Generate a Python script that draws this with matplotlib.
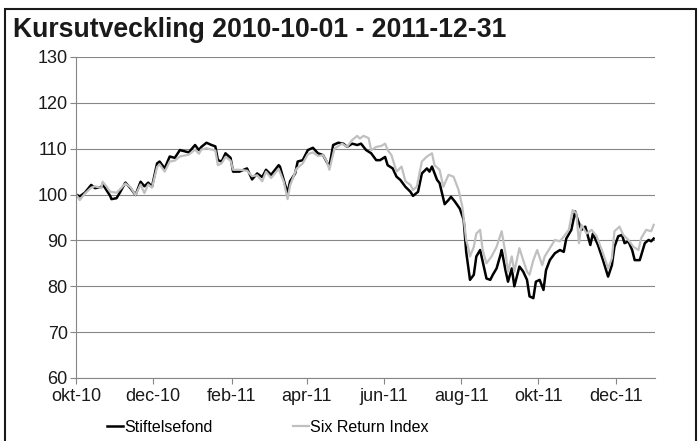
import pandas as pd
import matplotlib
matplotlib.use("Agg")
import matplotlib.pyplot as plt
from matplotlib.patches import Rectangle

plt.rcParams['font.family'] = ['Liberation Sans', 'DejaVu Sans']

TITLE = 'Kursutveckling 2010-10-01 - 2011-12-31'

# Stiftelsefond, indexed to 100 at start
fond_dates = [
    '2010-10-01', '2010-10-04', '2010-10-08', '2010-10-13', '2010-10-16', '2010-10-21',
    '2010-10-22', '2010-10-25', '2010-10-28', '2010-10-29', '2010-11-02', '2010-11-05',
    '2010-11-09', '2010-11-13', '2010-11-17', '2010-11-21', '2010-11-24', '2010-11-27',
    '2010-11-30', '2010-12-04', '2010-12-06', '2010-12-10', '2010-12-14', '2010-12-18',
    '2010-12-22', '2010-12-29', '2011-01-03', '2011-01-06', '2011-01-08', '2011-01-12',
    '2011-01-16', '2011-01-19', '2011-01-21', '2011-01-24', '2011-01-27', '2011-01-31',
    '2011-02-02', '2011-02-07', '2011-02-13', '2011-02-17', '2011-02-21', '2011-02-25',
    '2011-02-28', '2011-03-04', '2011-03-10', '2011-03-11', '2011-03-14', '2011-03-17',
    '2011-03-19', '2011-03-23', '2011-03-25', '2011-03-29', '2011-04-02', '2011-04-06',
    '2011-04-10', '2011-04-14', '2011-04-19', '2011-04-22', '2011-04-26', '2011-04-30',
    '2011-05-03', '2011-05-07', '2011-05-11', '2011-05-14', '2011-05-18', '2011-05-22',
    '2011-05-26', '2011-05-29', '2011-06-02', '2011-06-04', '2011-06-08', '2011-06-11',
    '2011-06-14', '2011-06-18', '2011-06-22', '2011-06-24', '2011-06-28', '2011-07-01',
    '2011-07-05', '2011-07-07', '2011-07-09', '2011-07-13', '2011-07-15', '2011-07-19',
    '2011-07-22', '2011-07-24', '2011-07-27', '2011-07-31', '2011-08-03', '2011-08-05',
    '2011-08-07', '2011-08-08', '2011-08-11', '2011-08-13', '2011-08-16', '2011-08-18',
    '2011-08-21', '2011-08-24', '2011-08-26', '2011-08-29', '2011-09-01', '2011-09-02',
    '2011-09-05', '2011-09-07', '2011-09-10', '2011-09-12', '2011-09-16', '2011-09-19',
    '2011-09-22', '2011-09-24', '2011-09-27', '2011-09-29', '2011-10-02', '2011-10-05',
    '2011-10-07', '2011-10-10', '2011-10-14', '2011-10-18', '2011-10-21', '2011-10-23',
    '2011-10-27', '2011-10-30', '2011-11-01', '2011-11-04', '2011-11-07', '2011-11-11',
    '2011-11-13', '2011-11-17', '2011-11-21', '2011-11-25', '2011-11-28', '2011-11-30',
    '2011-12-03', '2011-12-06', '2011-12-08', '2011-12-11', '2011-12-14', '2011-12-16',
    '2011-12-20', '2011-12-24', '2011-12-27', '2011-12-29', '2011-12-31',
]
fond_values = [
    100.0, 99.6, 100.4, 102.1, 101.4, 101.6,
    102.3, 101.0, 99.7, 99.0, 99.2, 100.6,
    102.6, 101.4, 99.9, 102.8, 101.8, 102.6,
    101.7, 106.8, 107.2, 105.7, 108.3, 108.0,
    109.7, 109.2, 110.8, 109.7, 110.4, 111.3,
    110.8, 110.5, 107.5, 107.2, 109.0, 108.0,
    105.0, 105.0, 105.7, 103.3, 104.6, 103.8,
    105.4, 104.3, 106.4, 106.1, 103.2, 100.3,
    102.9, 104.6, 107.2, 107.5, 109.7, 110.2,
    109.0, 108.6, 106.1, 110.8, 111.3, 111.1,
    110.4, 111.1, 110.8, 111.1, 109.7, 109.0,
    107.5, 107.5, 108.2, 106.4, 105.7, 103.9,
    103.2, 101.7, 100.6, 99.7, 100.6, 104.6,
    105.7, 105.0, 106.1, 103.2, 102.5, 97.9,
    98.8, 99.5, 98.5, 96.9, 94.5, 87.5,
    83.5, 81.4, 82.5, 86.5, 87.9, 85.4,
    81.7, 81.4, 82.5, 83.9, 86.8, 87.9,
    83.5, 81.0, 83.9, 80.0, 84.3, 83.2,
    81.4, 77.8, 77.4, 81.0, 81.4, 79.2,
    83.5, 85.7, 87.2, 87.9, 87.5, 90.4,
    92.3, 96.3, 94.5, 92.3, 93.0, 89.0,
    91.5, 89.0, 85.7, 82.1, 84.6, 88.6,
    90.9, 91.2, 89.4, 89.8, 87.9, 85.7,
    85.7, 89.4, 90.1, 89.8, 90.4,
]

# Six Return Index, indexed to 100 at start
index_dates = [
    '2010-10-01', '2010-10-04', '2010-10-08', '2010-10-13', '2010-10-16', '2010-10-21',
    '2010-10-22', '2010-10-25', '2010-10-28', '2010-11-02', '2010-11-05', '2010-11-09',
    '2010-11-13', '2010-11-17', '2010-11-21', '2010-11-24', '2010-11-27', '2010-11-30',
    '2010-12-04', '2010-12-06', '2010-12-10', '2010-12-14', '2010-12-18', '2010-12-22',
    '2010-12-29', '2011-01-03', '2011-01-06', '2011-01-08', '2011-01-12', '2011-01-16',
    '2011-01-19', '2011-01-21', '2011-01-24', '2011-01-27', '2011-01-31', '2011-02-02',
    '2011-02-07', '2011-02-13', '2011-02-17', '2011-02-21', '2011-02-25', '2011-02-28',
    '2011-03-04', '2011-03-10', '2011-03-14', '2011-03-17', '2011-03-19', '2011-03-24',
    '2011-03-29', '2011-04-02', '2011-04-06', '2011-04-10', '2011-04-14', '2011-04-17',
    '2011-04-19', '2011-04-23', '2011-04-29', '2011-05-03', '2011-05-07', '2011-05-11',
    '2011-05-13', '2011-05-16', '2011-05-20', '2011-05-22', '2011-05-26', '2011-05-30',
    '2011-06-02', '2011-06-04', '2011-06-07', '2011-06-11', '2011-06-15', '2011-06-18',
    '2011-06-22', '2011-06-24', '2011-06-27', '2011-07-01', '2011-07-05', '2011-07-09',
    '2011-07-11', '2011-07-15', '2011-07-18', '2011-07-22', '2011-07-26', '2011-07-30',
    '2011-08-02', '2011-08-05', '2011-08-07', '2011-08-08', '2011-08-11', '2011-08-13',
    '2011-08-16', '2011-08-18', '2011-08-21', '2011-08-25', '2011-08-29', '2011-09-02',
    '2011-09-05', '2011-09-07', '2011-09-10', '2011-09-12', '2011-09-16', '2011-09-19',
    '2011-09-22', '2011-09-24', '2011-09-27', '2011-09-30', '2011-10-04', '2011-10-06',
    '2011-10-10', '2011-10-14', '2011-10-18', '2011-10-22', '2011-10-25', '2011-10-28',
    '2011-10-31', '2011-11-02', '2011-11-04', '2011-11-08', '2011-11-12', '2011-11-16',
    '2011-11-21', '2011-11-25', '2011-11-28', '2011-11-30', '2011-12-04', '2011-12-07',
    '2011-12-11', '2011-12-15', '2011-12-19', '2011-12-21', '2011-12-25', '2011-12-29',
    '2011-12-31',
]
index_values = [
    100.0, 98.8, 100.2, 101.5, 101.8, 101.4,
    102.8, 101.8, 100.6, 100.4, 101.2, 102.4,
    101.6, 99.9, 102.2, 100.3, 102.2, 101.5,
    106.0, 106.6, 105.0, 107.2, 107.4, 108.3,
    108.7, 109.8, 108.9, 109.8, 110.1, 109.8,
    109.6, 106.4, 106.8, 108.2, 107.4, 105.4,
    105.4, 105.2, 104.0, 104.2, 102.9, 105.0,
    103.6, 105.6, 102.8, 99.0, 102.0, 105.6,
    106.8, 108.8, 109.2, 108.4, 108.6, 107.2,
    105.4, 110.0, 111.1, 110.4, 111.9, 112.8,
    112.2, 112.8, 112.3, 109.7, 110.4, 110.6,
    111.1, 109.7, 108.6, 105.0, 106.1, 102.9,
    102.1, 101.0, 101.7, 107.2, 108.3, 109.0,
    106.4, 105.4, 101.7, 104.3, 103.9, 101.0,
    97.3, 90.1, 88.0, 86.5, 88.6, 91.5,
    92.3, 87.9, 85.0, 86.5, 88.6, 92.0,
    87.2, 83.2, 86.5, 83.2, 88.3, 85.7,
    83.2, 82.5, 85.7, 87.9, 84.6, 86.5,
    88.3, 90.1, 89.8, 91.2, 92.3, 96.6,
    95.9, 89.4, 93.4, 91.5, 92.3, 90.9,
    87.2, 83.9, 86.1, 92.0, 93.0, 91.2,
    90.1, 88.6, 87.9, 90.4, 92.3, 92.0,
    93.4,
]

tick_dates = ['2010-10-01', '2010-12-01', '2011-02-01', '2011-04-01',
              '2011-06-01', '2011-08-01', '2011-10-01', '2011-12-01']
tick_labels = ['okt-10', 'dec-10', 'feb-11', 'apr-11',
               'jun-11', 'aug-11', 'okt-11', 'dec-11']
y_ticks = [60, 70, 80, 90, 100, 110, 120, 130]

GRID = '#868686'

fig = plt.figure(figsize=(6.99, 4.41), dpi=100)
ax = fig.add_axes([0.1087, 0.1429, 0.8283, 0.7279])

ax.plot(pd.to_datetime(fond_dates), fond_values, color='black', lw=1.8,
        label='Stiftelsefond', solid_joinstyle='round')
ax.plot(pd.to_datetime(index_dates), index_values, color='#c0c0c0', lw=1.6,
        label='Six Return Index', solid_joinstyle='round')

ax.set_xlim(pd.Timestamp('2010-10-01'), pd.Timestamp('2012-01-01'))
ax.set_ylim(60, 130)
ax.set_yticks(y_ticks)
ax.set_xticks(pd.to_datetime(tick_dates))
ax.set_xticklabels(tick_labels)

ax.grid(axis='y', color=GRID, lw=0.8)
ax.set_axisbelow(True)
for side in ['top', 'right']:
    ax.spines[side].set_visible(False)
for side in ['left', 'bottom']:
    ax.spines[side].set_color(GRID)
    ax.spines[side].set_linewidth(0.8)
ax.tick_params(axis='both', colors=GRID, labelcolor='#1a1a1a', labelsize=13,
               length=4, width=0.8)
ax.tick_params(axis='y', pad=2)
ax.tick_params(axis='x', pad=3)

fig.text(13 / 699, 1 - 37 / 441, TITLE, fontsize=19.2, fontweight='bold',
         color='#1a1a1a', va='baseline', ha='left')

fig.legend(loc='center left', bbox_to_anchor=(107 / 699, 1 - 427 / 441),
           ncol=2, frameon=False, fontsize=11.5, handlelength=1.0,
           handletextpad=0.1, columnspacing=5.0, borderpad=0, borderaxespad=0)

# outer chart frame, open at the bottom edge
fig.add_artist(Rectangle((5 / 699, -0.05), 691 / 699, 1.05 - 9 / 441,
                         transform=fig.transFigure, fill=False,
                         edgecolor='#1a1a1a', lw=1.5, clip_on=False))

fig.savefig('out.png', dpi=100)
